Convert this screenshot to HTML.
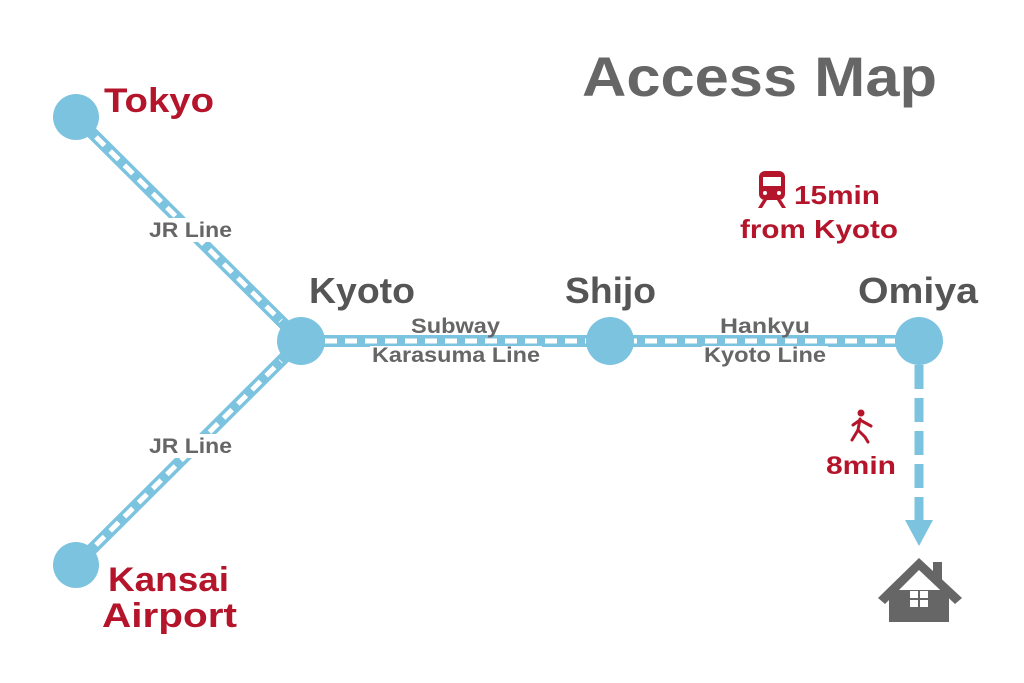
<!DOCTYPE html>
<html><head><style>
body{margin:0;background:#fff;}
svg{display:block;font-family:"Liberation Sans","DejaVu Sans",sans-serif;font-weight:bold;}
</style></head><body>
<svg width="1024" height="683" viewBox="0 0 1024 683">
<g stroke="#7cc3e0" stroke-width="12" fill="none">
<line x1="76" y1="117" x2="301" y2="341"/>
<line x1="76" y1="565" x2="301" y2="341"/>
<line x1="301" y1="341" x2="919" y2="341"/>
</g>
<g stroke="#fff" stroke-width="5" fill="none" stroke-dasharray="12 8">
<line x1="96" y1="137" x2="281" y2="321"/>
<line x1="96" y1="545" x2="281" y2="361"/>
<line x1="325" y1="341" x2="895" y2="341"/>
</g>
<line x1="919" y1="365" x2="919" y2="520" stroke="#7cc3e0" stroke-width="9" stroke-dasharray="24 9"/>
<polygon points="905,520 933,520 919,546" fill="#7cc3e0"/>
<g fill="#7cc3e0">
<circle cx="76" cy="117" r="23"/>
<circle cx="76" cy="565" r="23"/>
<circle cx="301" cy="341" r="24"/>
<circle cx="610" cy="341" r="24"/>
<circle cx="919" cy="341" r="24"/>
</g>
<g fill="#fff" stroke="none">
<rect x="410" y="318" width="92" height="16"/>
<rect x="370" y="346" width="172" height="20"/>
<rect x="718" y="318" width="94" height="16"/>
<rect x="702" y="346" width="126" height="20"/>
<rect x="146" y="218" width="90" height="24"/>
<rect x="146" y="434" width="90" height="24"/>
</g>
<text x="582" y="96" font-size="56" fill="#666" textLength="355" lengthAdjust="spacingAndGlyphs">Access Map</text>
<g fill="#b5152b">
<text x="104" y="112" font-size="34" textLength="110" lengthAdjust="spacingAndGlyphs">Tokyo</text>
<text x="108" y="591" font-size="34" textLength="121" lengthAdjust="spacingAndGlyphs">Kansai</text>
<text x="102" y="627" font-size="34" textLength="135" lengthAdjust="spacingAndGlyphs">Airport</text>
<text x="794" y="204" font-size="26" textLength="86" lengthAdjust="spacingAndGlyphs">15min</text>
<text x="740" y="238" font-size="26" textLength="158" lengthAdjust="spacingAndGlyphs">from Kyoto</text>
<text x="826" y="474" font-size="25" textLength="70" lengthAdjust="spacingAndGlyphs">8min</text>
</g>
<g fill="#555">
<text x="309" y="303" font-size="36" textLength="106" lengthAdjust="spacingAndGlyphs">Kyoto</text>
<text x="565" y="303" font-size="36" textLength="91" lengthAdjust="spacingAndGlyphs">Shijo</text>
<text x="858" y="303" font-size="36" textLength="120" lengthAdjust="spacingAndGlyphs">Omiya</text>
</g>
<g fill="#666" font-size="21">
<text x="149" y="237" textLength="83" lengthAdjust="spacingAndGlyphs">JR Line</text>
<text x="149" y="453" textLength="83" lengthAdjust="spacingAndGlyphs">JR Line</text>
<text x="411" y="333" textLength="89" lengthAdjust="spacingAndGlyphs">Subway</text>
<text x="372" y="362" textLength="168" lengthAdjust="spacingAndGlyphs">Karasuma Line</text>
<text x="720" y="333" textLength="90" lengthAdjust="spacingAndGlyphs">Hankyu</text>
<text x="704" y="362" textLength="122" lengthAdjust="spacingAndGlyphs">Kyoto Line</text>
</g>
<g fill="#b5152b">
<rect x="759" y="171" width="26" height="29" rx="6"/>
<polygon points="763,200 758,208 762,208 767,200"/>
<polygon points="781,200 786,208 782,208 777,200"/>
</g>
<rect x="763" y="177" width="18" height="9" fill="#fff"/>
<circle cx="765" cy="193" r="2" fill="#fff"/>
<circle cx="779" cy="193" r="2" fill="#fff"/>
<g fill="#b5152b" stroke="#b5152b" stroke-width="3" stroke-linecap="round">
<circle cx="861" cy="413" r="3.5" stroke="none"/>
<line x1="860" y1="419" x2="858" y2="430"/>
<line x1="858" y1="430" x2="852" y2="440"/>
<line x1="858" y1="430" x2="865" y2="437"/>
<line x1="865" y1="437" x2="868" y2="442"/>
<line x1="860" y1="420" x2="853" y2="425"/>
<line x1="860" y1="420" x2="871" y2="426"/>
</g>
<g fill="#666">
<polygon points="878,598 919,558 962,598 955,604 919,570 885,604"/>
<rect x="933" y="562" width="9" height="20"/>
<rect x="889" y="590" width="60" height="32"/>
</g>
<g fill="#fff">
<rect x="910" y="591" width="8" height="7"/>
<rect x="920" y="591" width="8" height="7"/>
<rect x="910" y="600" width="8" height="7"/>
<rect x="920" y="600" width="8" height="7"/>
</g>
</svg>
</body></html>
